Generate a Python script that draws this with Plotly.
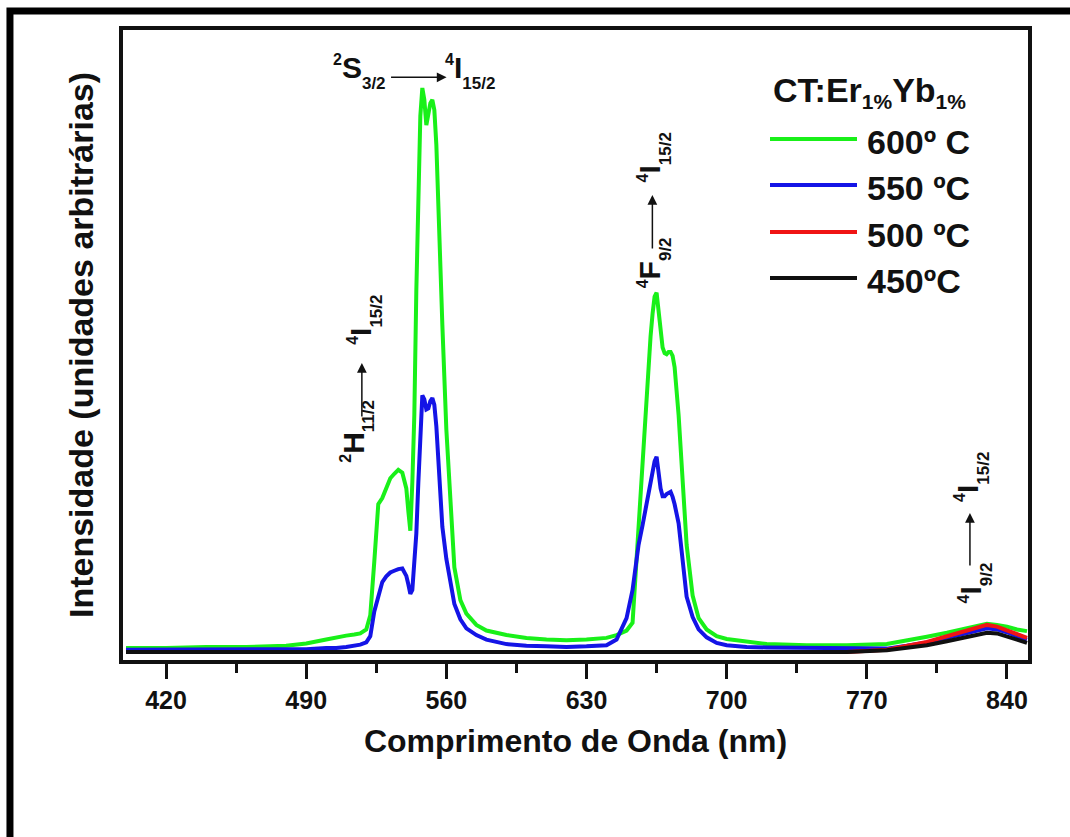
import plotly.graph_objects as go

# Wavelength grid (nm)
wavelength = [400, 420, 440, 460, 480, 490, 500, 505, 510, 514, 517, 520, 522, 524, 526,
              528, 530, 532, 534, 536, 538, 540, 541, 542, 543, 544, 545, 546, 547, 548,
              549, 550, 551, 552, 553, 554, 555, 556, 557, 558, 560, 562, 564, 567, 570,
              575, 580, 590, 600, 610, 620, 630, 640, 645, 650, 653, 656, 658, 660, 662,
              663, 664, 665, 666, 667, 668, 669, 670, 671, 672, 673, 674, 676, 678, 680,
              683, 686, 690, 695, 700, 710, 720, 740, 760, 780, 790, 800, 810, 820, 825,
              830, 835, 840, 845, 850]

# Emission intensity (arbitrary units) for each annealing temperature
i_600 = [7, 7, 9, 9, 11, 15, 22, 26, 29, 31, 33, 40, 65, 160, 262,
         273, 290, 308, 316, 323, 318, 290, 250, 215, 300, 420, 640, 820, 950, 1000,
         979, 934, 952, 973, 979, 961, 899, 784, 680, 580, 394, 260, 150, 92, 68,
         48, 38, 30, 25, 22, 21, 22, 25, 30, 38, 52, 220, 340, 470, 560,
         600, 630, 637, 606, 565, 540, 530, 528, 532, 532, 525, 505, 420, 290, 190,
         100, 60, 40, 28, 23, 18, 14, 12, 12, 14, 20, 27, 34, 42, 46,
         50, 48, 45, 40, 37]

i_550 = [4, 4, 4, 4, 5, 5, 7, 7, 9, 11, 13, 17, 28, 72, 98,
         124, 134, 141, 144, 147, 148, 135, 120, 103, 110, 150, 210, 300, 400, 455,
         448, 430, 432, 445, 450, 438, 400, 340, 280, 222, 165, 120, 85, 58, 42,
         30, 22, 14, 11, 10, 9, 10, 12, 22, 60, 110, 190, 225, 265, 300,
         320, 338, 346, 318, 290, 276, 276, 280, 283, 284, 275, 262, 228, 165, 98,
         62, 40, 26, 16, 12, 9, 8, 7, 7, 6, 11, 17, 25, 33, 38,
         42, 40, 35, 28, 22]

i_500 = [0, 0, 0, 0, 0, 0, 0, 0, 0, 0, 0, 0, 0, 0, 0,
         0, 0, 0, 0, 0, 0, 0, 0, 0, 0, 0, 0, 0, 0, 0,
         0, 0, 0, 0, 0, 0, 0, 0, 0, 0, 0, 0, 0, 0, 0,
         0, 0, 0, 0, 0, 0, 0, 0, 0, 0, 0, 0, 0, 0, 0,
         0, 0, 0, 0, 0, 0, 0, 0, 0, 0, 0, 0, 0, 0, 0,
         0, 0, 0, 0, 0, 0, 0, 0, 0, 4, 11, 18, 28, 38, 44,
         48, 45, 38, 31, 25]

i_450 = [0, 0, 0, 0, 0, 0, 0, 0, 0, 0, 0, 0, 0, 0, 0,
         0, 0, 0, 0, 0, 0, 0, 0, 0, 0, 0, 0, 0, 0, 0,
         0, 0, 0, 0, 0, 0, 0, 0, 0, 0, 0, 0, 0, 0, 0,
         0, 0, 0, 0, 0, 0, 0, 0, 0, 0, 0, 0, 0, 0, 0,
         0, 0, 0, 0, 0, 0, 0, 0, 0, 0, 0, 0, 0, 0, 0,
         0, 0, 0, 0, 0, 0, 0, 0, 0, 3, 7, 12, 19, 27, 31,
         34, 33, 28, 22, 16]

series_names = ["600º C", "550 ºC", "500 ºC", "450ºC"]
series_values = [i_600, i_550, i_500, i_450]
series_colors = ["#19f019", "#1414e6", "#f01414", "#101010"]

x_ticks = [420, 490, 560, 630, 700, 770, 840]

FONT = "Liberation Sans, Arial, sans-serif"

fig = go.Figure()
for name, vals, col in zip(series_names, series_values, series_colors):
    fig.add_trace(go.Scatter(x=wavelength, y=vals, mode="lines", name=name,
                             line=dict(color=col, width=4), showlegend=False))

fig.update_layout(
    width=1070, height=837, autosize=False,
    margin=dict(l=123, r=42, t=30, b=177),
    paper_bgcolor="white", plot_bgcolor="white",
    font=dict(family=FONT, color="#111", weight="bold"),
)

fig.update_xaxes(
    range=[398.5, 850.5], tickvals=x_ticks, ticks="outside", ticklen=15, tickwidth=3,
    tickcolor="#111", showline=True, linewidth=4, linecolor="#111", mirror=True,
    showgrid=False, zeroline=False,
    tickfont=dict(size=25, family=FONT, weight="bold"),
    minor=dict(ticks="outside", ticklen=9, tickwidth=3, tickcolor="#111", dtick=35, tick0=420),
    title=dict(text="Comprimento de Onda (nm)", font=dict(size=32, family=FONT, weight="bold"),
               standoff=18),
)
fig.update_yaxes(
    range=[-14.2, 1102.8], showticklabels=False, ticks="", showline=True, linewidth=4,
    linecolor="#111", mirror=True, showgrid=False, zeroline=False,
    title=dict(text="Intensidade (unidades arbitrárias)",
               font=dict(size=34, family=FONT, weight="bold"), standoff=16),
)

# Outer frame around the figure
fig.add_shape(type="rect", xref="paper", yref="paper", x0=-0.1249, x1=1.07, y0=-0.32, y1=1.0302,
              line=dict(color="black", width=7), layer="below")


def term(sup, letter, sub):
    """Spectroscopic term symbol with small left superscript and a low subscript."""
    return ('<sup><span style="font-size:16px">%s</span></sup>%s'
            '<sub><sub><span style="font-size:17px">%s</span></sub></sub>' % (sup, letter, sub))


# Transition labels
big = dict(size=30, family=FONT, weight="bold", color="#111")
ann = []
# 2S3/2 -> 4I15/2 (horizontal)
ann.append(dict(x=530.7, y=987, xref="x", yref="y", xanchor="right", yanchor="bottom",
                text=term("2", "S", "3/2"), showarrow=False, font=big))
ann.append(dict(x=558.2, y=987, xref="x", yref="y", xanchor="left", yanchor="bottom",
                text=term("4", "I", "15/2"), showarrow=False, font=big))
ann.append(dict(x=560.1, y=1019, xref="x", yref="y", ax=-57, ay=0, text="", showarrow=True,
                arrowhead=2, arrowsize=1.3, arrowwidth=1.5, arrowcolor="#111"))
# Rotated labels: lower term, its x and bottom y; upper term, its x and top y;
# arrow x, arrow head y and arrow length in pixels
rotated = [
    (term("2", "H", "11/2"), 516.0, 331.6, term("4", "I", "15/2"), 519.3, 636.5, 517.8, 512.4, 55),
    (term("4", "F", "9/2"), 663.6, 641.8, term("4", "I", "15/2"), 663.9, 925.5, 662.9, 810.3, 55),
    (term("4", "I", "9/2"), 824.0, 83.3, term("4", "I", "15/2"), 822.5, 358.2, 821.5, 246.5, 54),
]
for lo, lx, ly, up, ux, uy, axx, ahy, alen in rotated:
    ann.append(dict(x=lx, y=ly, xref="x", yref="y", xanchor="center", yanchor="bottom",
                    text=lo, textangle=-90, showarrow=False, font=big))
    ann.append(dict(x=ux, y=uy, xref="x", yref="y", xanchor="center", yanchor="top",
                    text=up, textangle=-90, showarrow=False, font=big))
    ann.append(dict(x=axx, y=ahy, xref="x", yref="y", ax=0, ay=alen, text="", showarrow=True,
                    arrowhead=2, arrowsize=1.3, arrowwidth=1.5, arrowcolor="#111"))

# Legend drawn as line samples with labels
leg_y = [139, 185, 232, 278]


def py(v):
    return (660 - v) / 630.0


def px(v):
    return (v - 123) / 905.0


ann.append(dict(x=px(771), y=py(92), xref="paper", yref="paper", xanchor="left", yanchor="middle",
                text='CT:Er<sub><span style="font-size:21px">1%</span></sub>'
                     'Yb<sub><span style="font-size:21px">1%</span></sub>',
                showarrow=False, font=dict(size=34, family=FONT, weight="bold", color="#111")))
for name, col, yy in zip(series_names, series_colors, leg_y):
    fig.add_shape(type="line", xref="paper", yref="paper", x0=px(770), x1=px(857),
                  y0=py(yy), y1=py(yy), line=dict(color=col, width=4))
    ann.append(dict(x=px(865), y=py(yy + 3), xref="paper", yref="paper", xanchor="left",
                    yanchor="middle", text=name, showarrow=False,
                    font=dict(size=34, family=FONT, weight="bold", color="#111")))

fig.update_layout(annotations=ann)
fig.write_html("out.html")
